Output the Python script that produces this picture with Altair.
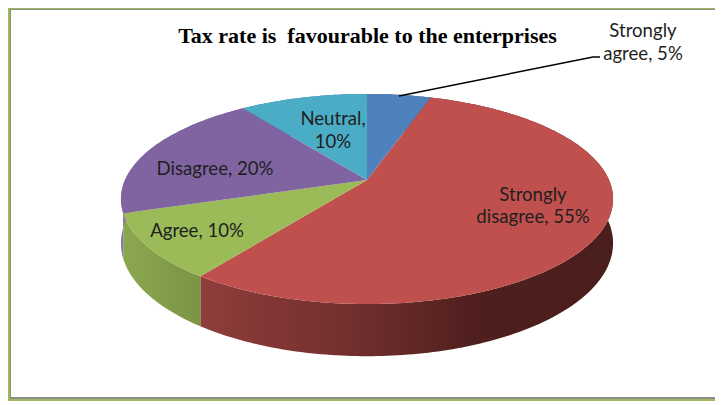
import math
import altair as alt
import pandas as pd

categories = ["Strongly agree", "Strongly disagree", "Agree", "Disagree", "Neutral"]
shares = [5, 55, 10, 20, 10]
top_colors = ["#4f81bd", "#c0504d", "#9bbb59", "#8064a2", "#4bacc6"]
wall_stops = [
    [(0, "#3a5f8c"), (1, "#2c4a6e")],
    [(0, "#8f3d3b"), (0.36, "#722f2e"), (0.68, "#4e1f1d"), (1, "#4a1e1c")],
    [(0, "#8ba84f"), (1, "#7a9444")],
    [(0, "#8a76a8"), (1, "#8a76a8")],
    [(0, "#3a8ba0"), (1, "#2f7488")],
]
title_text = "Tax rate is\u00a0 favourable to the enterprises"
label_lines = [
    ("Strongly", 643, 30.5), ("agree, 5%", 643, 53.5),
    ("Strongly", 533, 194.5), ("disagree, 55%", 533, 216.5),
    ("Agree, 10%", 197, 230.5),
    ("Disagree, 20%", 215, 168.5),
    ("Neutral,", 333, 118.5), ("10%", 333, 141.5),
]

OFF = 8  # page margin
CX, CY, RX, RY, K, DEPTH = 367, 180, 242, 101.6, 0.181, 42.7


def project(deg, low=False):
    a = math.radians(deg)
    u, v = math.sin(a), math.cos(a)
    d = 1 + K * v
    x = CX + RX * u / d
    y = CY - RY * v / d + (DEPTH / d if low else 0)
    return [x - OFF, y - OFF]


def arc(start, end, low=False):
    n = max(2, int(end - start) + 1)
    return [project(start + (end - start) * i / (n - 1), low) for i in range(n)]


def feature(ring):
    ring = ring + [ring[0]]
    return {"type": "Feature", "properties": {}, "geometry": {"type": "Polygon", "coordinates": [ring]}}


W, H = 707, 393
proj = alt.Projection(type="identity", scale=1, translate=[0, 0])
layers = []

angles = []
acc = 0
for s in shares:
    angles.append((acc * 3.6, (acc + s) * 3.6))
    acc += s


def shape(f, fill):
    return alt.Chart(alt.Data(values=[f])).mark_geoshape(fill=fill, stroke=None, strokeWidth=0).project(**proj.to_dict())


for (a0, a1), stops in zip(angles, wall_stops):
    ring = arc(a0, a1) + arc(a0, a1, True)[::-1]
    grad = alt.LinearGradient(
        gradient="linear", x1=0, x2=1, y1=0, y2=0,
        stops=[alt.GradientStop(offset=o, color=c) for o, c in stops],
    )
    layers.append(shape(feature(ring), grad))

for (a0, a1), col in zip(angles, top_colors):
    ring = [[CX - OFF, CY - OFF]] + arc(a0, a1)
    layers.append(shape(feature(ring), col))

# leader line
leader = pd.DataFrame({"px": [399 - OFF, 593 - OFF, 600 - OFF], "py": [96 - OFF, 57 - OFF, 57 - OFF], "o": [0, 1, 2]})
layers.append(
    alt.Chart(leader).mark_line(color="#000000", strokeWidth=1.5).encode(
        x=alt.X("px:Q", scale=None), y=alt.Y("py:Q", scale=None), order="o:Q"
    )
)

# labels
lab = pd.DataFrame(label_lines, columns=["t", "px", "py"])
lab["px"] -= OFF
lab["py"] -= OFF
layers.append(
    alt.Chart(lab).mark_text(font="Lato", fontSize=18.6, color="#1f1f1f", align="center", baseline="middle").encode(
        x=alt.X("px:Q", scale=None), y=alt.Y("py:Q", scale=None), text="t:N"
    )
)

# title
layers.append(
    alt.Chart(pd.DataFrame({"t": [title_text]})).mark_text(
        font="Liberation Serif", fontSize=22, fontWeight="bold", color="#000000", align="center", baseline="middle"
    ).encode(x=alt.value(367.5 - OFF), y=alt.value(36 - OFF), text="t:N")
)


# frame
def band(x0, x1, y0, y1, col):
    return alt.Chart(pd.DataFrame({"a": [0]})).mark_rect(color=col).encode(
        x=alt.value(x0), x2=alt.value(x1), y=alt.value(y0), y2=alt.value(y1)
    )


GREEN, GREY = "#9bbb59", "#8c8c8c"
layers += [
    band(0, W, 0, 1, GREEN),
    band(2, W, 1, 2, GREY),
    band(0, W, H - 2, H, GREEN),
    band(2, W, H - 4, H - 2, GREY),
    band(0, 2, 0, H, GREEN),
    band(2, 3, 1, H - 2, GREY),
]

chart = alt.layer(*layers).properties(
    width=W, height=H, padding=0, autosize=alt.AutoSizeParams(type="none")
).configure_view(stroke=None).resolve_scale(x="independent", y="independent")

chart.save("out.html", embed_options={"renderer": "svg", "actions": False})
